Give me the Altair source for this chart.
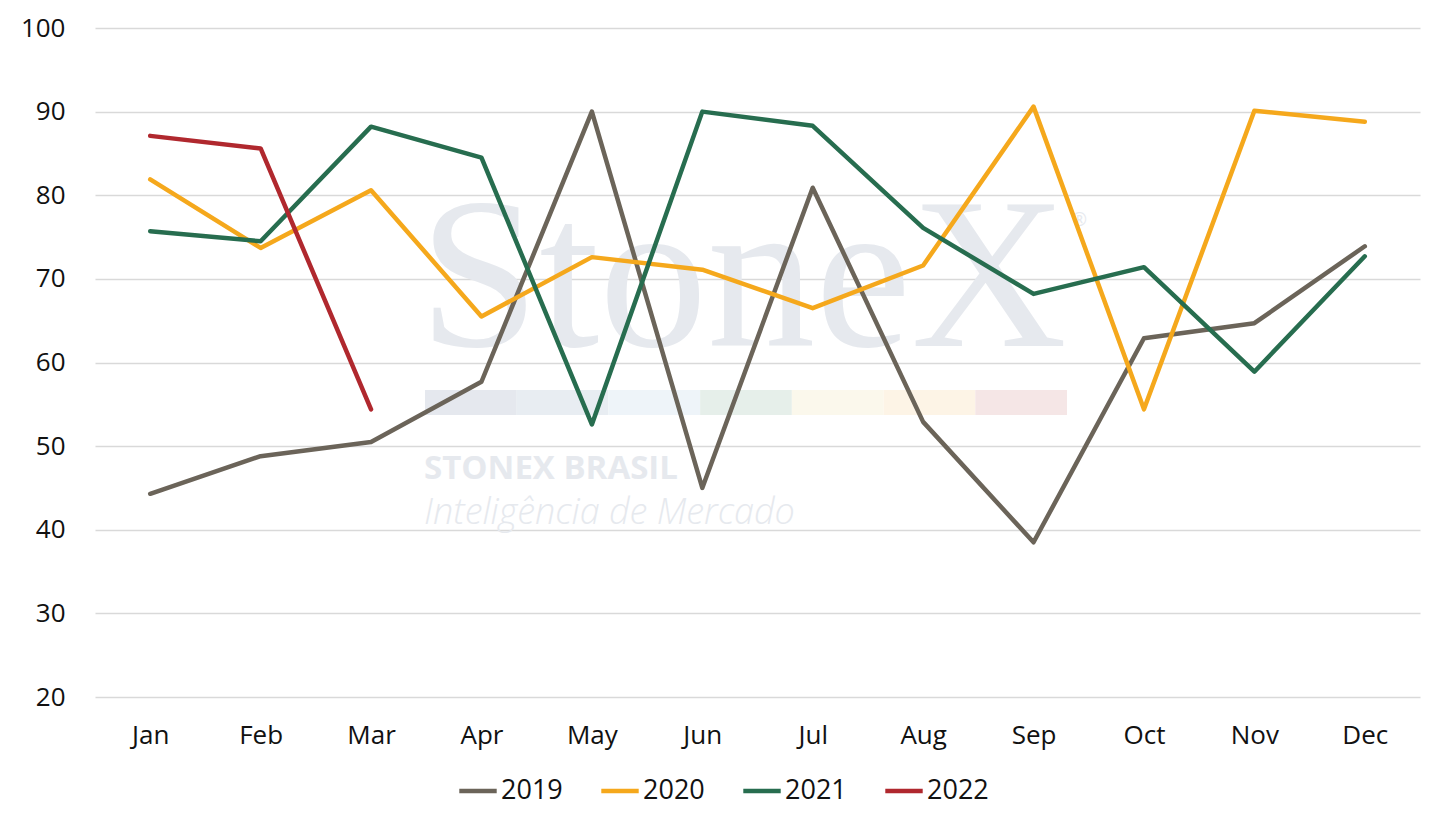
import altair as alt
import pandas as pd

months = ["Jan", "Feb", "Mar", "Apr", "May", "Jun", "Jul", "Aug", "Sep", "Oct", "Nov", "Dec"]
v2019 = [44.3, 48.8, 50.5, 57.7, 90.0, 45.0, 80.9, 52.9, 38.5, 62.9, 64.7, 73.9]
v2020 = [81.9, 73.7, 80.6, 65.5, 72.6, 71.1, 66.5, 71.6, 90.6, 54.4, 90.1, 88.8]
v2021 = [75.7, 74.5, 88.2, 84.5, 52.6, 90.0, 88.3, 76.1, 68.2, 71.4, 58.9, 72.7]
v2022 = [87.1, 85.6, 54.4]
years = ["2019", "2020", "2021", "2022"]
colors = ["#6b6459", "#f5a81c", "#276d4f", "#b0282e"]

rows = []
for yr, vals in zip(years, [v2019, v2020, v2021, v2022]):
    for m, v in zip(months, vals):
        rows.append({"month": m, "year": yr, "value": v})
df = pd.DataFrame(rows)

W, H = 1325, 669
FONT = "Open Sans"

# watermark
wm_color = "#e6e9ee"
strip_colors = ["#e5e8ee", "#e8edf2", "#eef4f9", "#e6efea", "#fbf8ec", "#fdf4e6", "#f5e6e6"]
base_blank = alt.Chart(pd.DataFrame({"a": [0]}))
layers = []
seg_w = 642 / 7
for i, c in enumerate(strip_colors):
    layers.append(base_blank.mark_rect(color=c).encode(
        x=alt.value(330 + i * seg_w), x2=alt.value(330 + (i + 1) * seg_w),
        y=alt.value(362), y2=alt.value(387)))
layers.append(base_blank.mark_text(text="StoneX", font="Liberation Serif", fontSize=216,
                                   color=wm_color, align="left", baseline="alphabetic").encode(
    x=alt.value(324), y=alt.value(318)))
layers.append(base_blank.mark_text(text="®", font=FONT, fontSize=18,
                                   color=wm_color, align="left", baseline="alphabetic").encode(
    x=alt.value(977), y=alt.value(198)))
layers.append(base_blank.mark_text(text="STONEX BRASIL", font=FONT, fontSize=33, fontWeight="bold",
                                   color=wm_color, align="left", baseline="alphabetic").encode(
    x=alt.value(329), y=alt.value(451)))
layers.append(base_blank.mark_text(text="Inteligência de Mercado", font=FONT, fontSize=36,
                                   fontStyle="italic", fontWeight=300,
                                   color=wm_color, align="left", baseline="alphabetic").encode(
    x=alt.value(329), y=alt.value(496)))

lines = alt.Chart(df).mark_line(strokeWidth=4.5, strokeCap="round", strokeJoin="round").encode(
    x=alt.X("month:N", sort=months, title=None,
            scale=alt.Scale(paddingInner=0, paddingOuter=0.5),
            axis=alt.Axis(labelFont=FONT, labelFontSize=26, labelColor="#111", labelAngle=0,
                          domain=False, ticks=False, grid=False, labelPadding=25)),
    y=alt.Y("value:Q", title=None,
            scale=alt.Scale(domain=[20, 100], nice=False, zero=False),
            axis=alt.Axis(values=list(range(20, 101, 10)), labelFont=FONT, labelFontSize=26,
                          labelColor="#111", domain=False, ticks=False, gridColor="#d9d9d9",
                          gridWidth=1.5, labelPadding=30)),
    color=alt.Color("year:N", scale=alt.Scale(domain=years, range=colors), title=None,
                    legend=alt.Legend(orient="none", legendX=362, legendY=742, direction="horizontal",
                                      symbolType="stroke", symbolStrokeWidth=4.5, symbolSize=1400,
                                      labelFont=FONT, labelFontSize=27, labelColor="#111",
                                      columnPadding=29, labelOffset=2)),
)

chart = alt.layer(*layers, lines).properties(
    width=W, height=H,
    autosize=alt.AutoSizeParams(type="none"),
    padding={"left": 87, "top": 20, "right": 14, "bottom": 125},
).configure(background="white").configure_view(strokeWidth=0)

chart.save("out.html", embed_options={"renderer": "svg", "actions": False})
